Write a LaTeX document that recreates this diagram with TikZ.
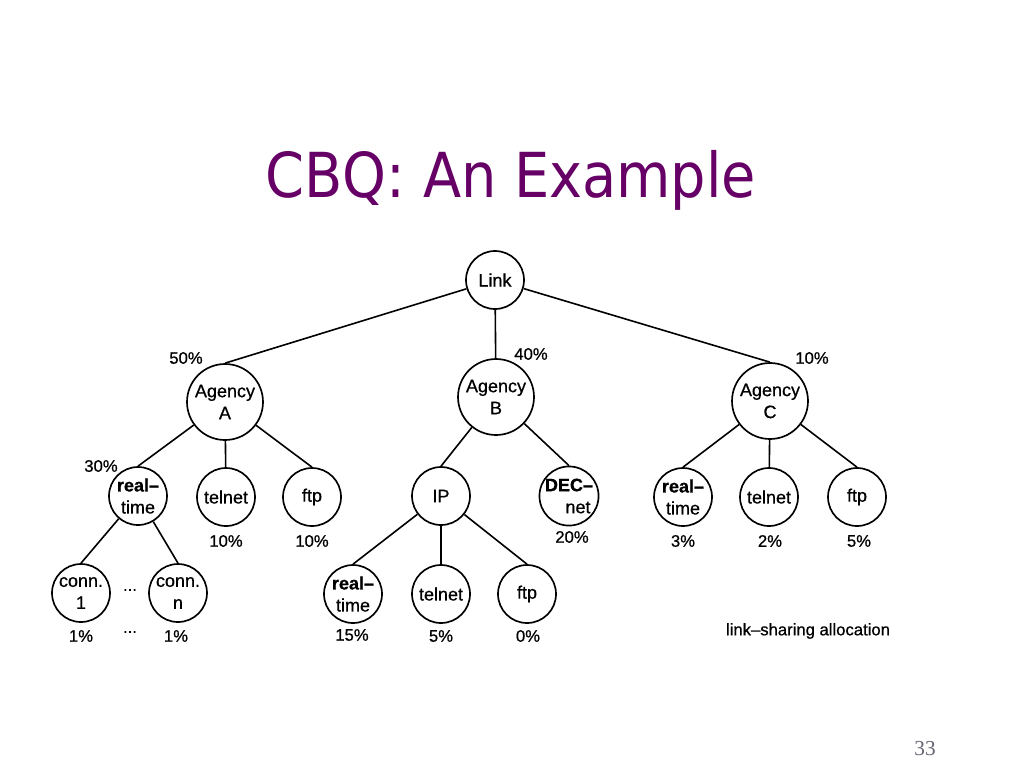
\documentclass[tikz,border=0pt]{standalone}
\usepackage{fontspec}
\setmainfont{Liberation Sans}[FakeBold=0.7]
\newfontfamily\titlefont{DejaVu Sans Condensed}
\newfontfamily\pagefont{Liberation Serif}
\definecolor{titlepurple}{HTML}{660066}
\definecolor{pagegray}{HTML}{666677}

\begin{document}
\begin{tikzpicture}[x=0.75pt, y=-0.75pt,
		cls/.style={circle, draw, line width=1.25pt, minimum size=43.5pt, inner sep=0pt, align=center, font=\fontsize{13.5}{16.5}\selectfont},
		agency/.style={cls, minimum size=57pt},
		pct/.style={inner sep=0pt, font=\fontsize{12.5}{15}\selectfont},
		edge/.style={line width=1.2pt}]
		%%%%% START %%%%%
		
		\useasboundingbox[fill=white] (0, 0) rectangle (1024, 768);
		
		\node[anchor=base, color=titlepurple, font=\titlefont\fontsize{46.5}{56}\selectfont] (title) at (511, 197) {CBQ: An Example};
		\node[anchor=base, color=pagegray, font=\pagefont\fontsize{16}{19}\selectfont] (page) at (925, 755) {33};
		
		\node[cls] (link) at (495, 280) {Link};
		
		\node[agency] (agA) at (225, 402) {Agency\\A};
		\node[agency] (agB) at (496, 397) {Agency\\B};
		\node[agency] (agC) at (770, 401) {Agency\\C};
		
		\node[cls] (rtA) at (138, 496) {\textbf{real–}\\time};
		\node[cls] (tnA) at (226, 497) {telnet};
		\node[cls] (ftA) at (312, 497) {ftp};
		\node[cls] (cn1) at (81, 593) {conn.\\1};
		\node[cls] (cnn) at (178, 593) {conn.\\n};
		
		\node[cls] (ip) at (441, 496) {IP};
		\node[cls] (dec) at (569, 496) {\textbf{DEC–}\\\hspace*{1em}net};
		\node[cls] (rtB) at (353, 594) {\textbf{real–}\\time};
		\node[cls] (tnB) at (441, 594) {telnet};
		\node[cls] (ftB) at (527, 594) {ftp};
		
		\node[cls] (rtC) at (683, 497) {\textbf{real–}\\time};
		\node[cls] (tnC) at (769, 497) {telnet};
		\node[cls] (ftC) at (857, 497) {ftp};
		
		\draw[edge] (link) -- (agA.north);
		\draw[edge] (link) -- (agB);
		\draw[edge] (link) -- (agC.north);
		
		\draw[edge] (agA) -- (rtA.north);
		\draw[edge] (agA) -- (tnA);
		\draw[edge] (agA) -- (ftA.north);
		\draw[edge] (rtA) -- (cn1.north);
		\draw[edge] (rtA) -- (cnn.north);
		
		\draw[edge] (agB) -- (ip.north);
		\draw[edge] (agB) -- (dec.north);
		\draw[edge] (ip) -- (rtB.north);
		\draw[edge] (ip) -- (tnB);
		\draw[edge] (ip) -- (ftB.north);
		
		\draw[edge] (agC) -- (rtC.north);
		\draw[edge] (agC) -- (tnC);
		\draw[edge] (agC) -- (ftC.north);
		
		\node[pct] (pA) at (186, 358) {50\%};
		\node[pct] (pB) at (531, 354) {40\%};
		\node[pct] (pC) at (812, 358) {10\%};
		
		\node[pct] (prtA) at (101, 466) {30\%};
		\node[pct] (ptnA) at (226, 541) {10\%};
		\node[pct] (pftA) at (312, 541) {10\%};
		\node[pct] (dots) at (130, 590) {...};
		\node[pct] (pcn1) at (81, 636) {1\%};
		\node[pct] (pdots) at (130, 632) {...};
		\node[pct] (pcnn) at (176, 636) {1\%};
		
		\node[pct] (pdec) at (572, 537) {20\%};
		\node[pct] (prtB) at (352, 635) {15\%};
		\node[pct] (ptnB) at (441, 636) {5\%};
		\node[pct] (pftB) at (528, 636) {0\%};
		
		\node[pct] (prtC) at (683, 541) {3\%};
		\node[pct] (ptnC) at (770, 541) {2\%};
		\node[pct] (pftC) at (859, 541) {5\%};
		
		\node[pct, font=\fontsize{12.5}{14}\selectfont] (note) at (808, 631) {link–sharing allocation};
		
		%%%%% END %%%%%
	\end{tikzpicture}
\end{document}
